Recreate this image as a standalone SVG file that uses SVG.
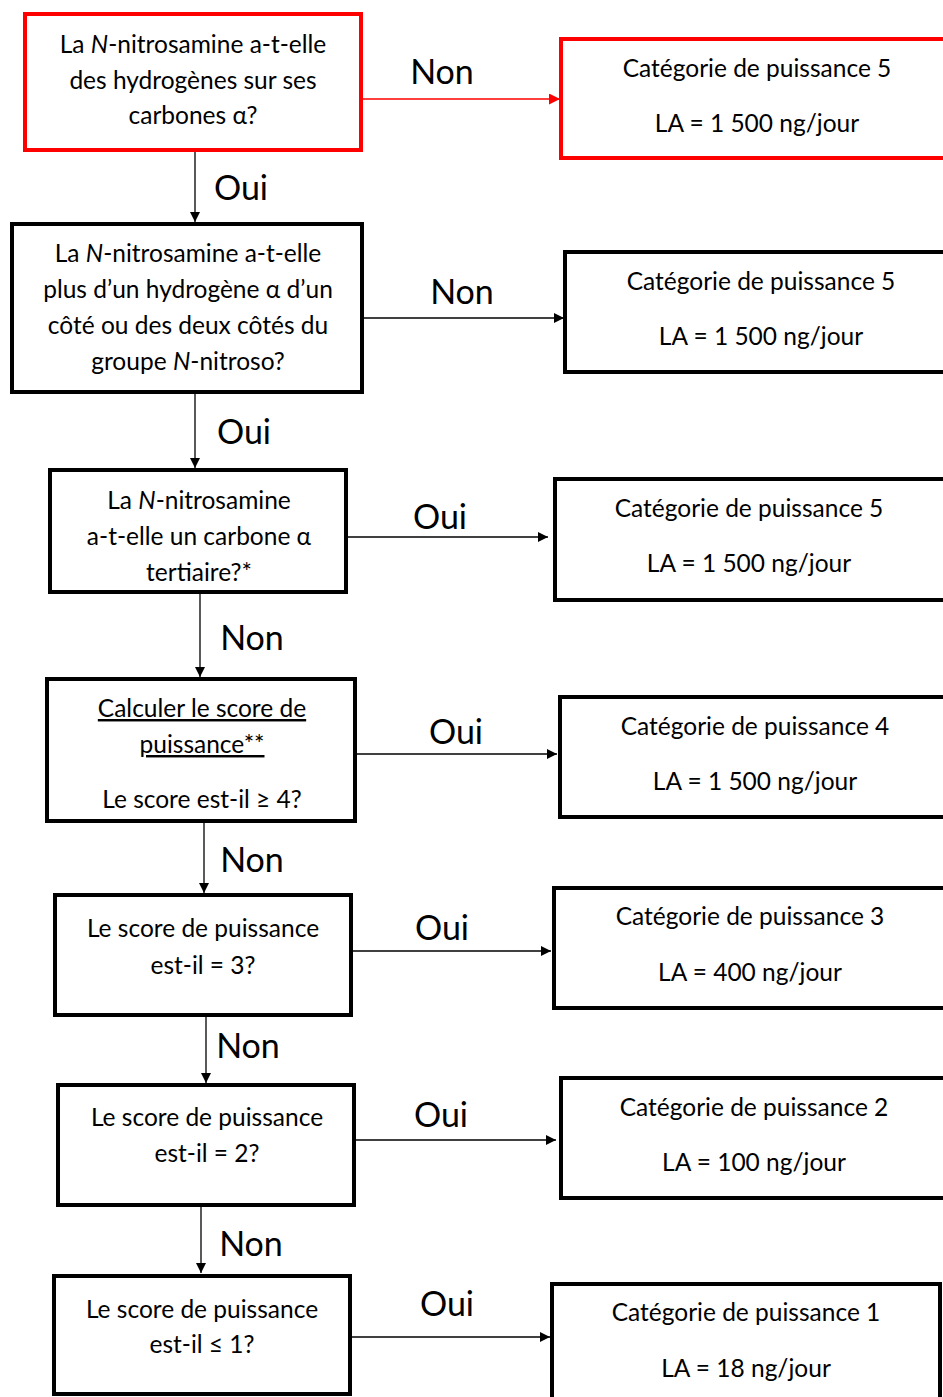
<svg xmlns="http://www.w3.org/2000/svg" width="943" height="1397" viewBox="0 0 943 1397">
<defs>
<style>
.box{fill:#fff;stroke:#000;stroke-width:4}
.red{stroke:#f00}
.t{font-family:Lato,"Liberation Sans",sans-serif;font-size:24.5px;fill:#000;text-anchor:middle}
.lbl{font-family:Lato,"Liberation Sans",sans-serif;font-size:34px;fill:#000;text-anchor:middle}
.c{stroke:#000;stroke-width:1.3;fill:none}
.cr{stroke:#f00;stroke-width:1.3;fill:none}
.u{text-decoration:underline}
</style>
<marker id="ah" viewBox="0 0 10 10" refX="10" refY="5" markerWidth="10" markerHeight="10" markerUnits="userSpaceOnUse" orient="auto"><path d="M0,0 L10,5 L0,10 Z" fill="#000"/></marker>
<marker id="ahr" viewBox="0 0 10 10" refX="10" refY="5" markerWidth="11" markerHeight="11" markerUnits="userSpaceOnUse" orient="auto"><path d="M0,0 L10,5 L0,10 Z" fill="#f00"/></marker>
</defs>
<rect width="943" height="1397" fill="#fff"/>

<g id="connectors">
<line class="cr" x1="361" y1="99" x2="560" y2="99" marker-end="url(#ahr)"/>
<line class="c" x1="195" y1="152" x2="195" y2="222" marker-end="url(#ah)"/>
<line class="c" x1="362" y1="318" x2="564" y2="318" marker-end="url(#ah)"/>
<line class="c" x1="195" y1="394" x2="195" y2="468" marker-end="url(#ah)"/>
<line class="c" x1="346" y1="537" x2="548" y2="537" marker-end="url(#ah)"/>
<line class="c" x1="200" y1="594" x2="200" y2="677" marker-end="url(#ah)"/>
<line class="c" x1="355" y1="754" x2="557" y2="754" marker-end="url(#ah)"/>
<line class="c" x1="204" y1="823" x2="204" y2="893" marker-end="url(#ah)"/>
<line class="c" x1="351" y1="951" x2="551" y2="951" marker-end="url(#ah)"/>
<line class="c" x1="206" y1="1017" x2="206" y2="1083" marker-end="url(#ah)"/>
<line class="c" x1="354" y1="1140" x2="556" y2="1140" marker-end="url(#ah)"/>
<line class="c" x1="201" y1="1207" x2="201" y2="1273" marker-end="url(#ah)"/>
<line class="c" x1="350" y1="1337" x2="550" y2="1337" marker-end="url(#ah)"/>
<text class="lbl" x="442" y="84">Non</text>
<text class="lbl" x="241" y="200">Oui</text>
<text class="lbl" x="462" y="304">Non</text>
<text class="lbl" x="244" y="444">Oui</text>
<text class="lbl" x="440" y="529">Oui</text>
<text class="lbl" x="252" y="650">Non</text>
<text class="lbl" x="456" y="744">Oui</text>
<text class="lbl" x="252" y="872">Non</text>
<text class="lbl" x="442" y="940">Oui</text>
<text class="lbl" x="248" y="1058">Non</text>
<text class="lbl" x="441" y="1127">Oui</text>
<text class="lbl" x="251" y="1256">Non</text>
<text class="lbl" x="447" y="1316">Oui</text>
</g>

<g id="q1">
<rect class="box red" x="25" y="14" width="336" height="136"/>
<text class="t" x="193" y="53">La <tspan font-style="italic">N</tspan>-nitrosamine a-t-elle</text>
<text class="t" x="193" y="89">des hydrogènes sur ses</text>
<text class="t" x="193" y="124">carbones α?</text>
</g>
<g id="r1">
<rect class="box red" x="561" y="39" width="390" height="119"/>
<text class="t" x="757" y="77">Catégorie de puissance 5</text>
<text class="t" x="757" y="132">LA = 1 500 ng/jour</text>
</g>

<g id="q2">
<rect class="box" x="12" y="224" width="350" height="168"/>
<text class="t" x="188" y="262">La <tspan font-style="italic">N</tspan>-nitrosamine a-t-elle</text>
<text class="t" x="188" y="298">plus d’un hydrogène α d’un</text>
<text class="t" x="188" y="334">côté ou des deux côtés du</text>
<text class="t" x="188" y="370">groupe <tspan font-style="italic">N</tspan>-nitroso?</text>
</g>
<g id="r2">
<rect class="box" x="565" y="252" width="386" height="120"/>
<text class="t" x="761" y="290">Catégorie de puissance 5</text>
<text class="t" x="761" y="345">LA = 1 500 ng/jour</text>
</g>

<g id="q3">
<rect class="box" x="50" y="470" width="296" height="122"/>
<text class="t" x="199" y="509">La <tspan font-style="italic">N</tspan>-nitrosamine</text>
<text class="t" x="199" y="545">a-t-elle un carbone α</text>
<text class="t" x="199" y="581">tertiaire?*</text>
</g>
<g id="r3">
<rect class="box" x="555" y="479" width="396" height="121"/>
<text class="t" x="749" y="517">Catégorie de puissance 5</text>
<text class="t" x="749" y="572">LA = 1 500 ng/jour</text>
</g>

<g id="q4">
<rect class="box" x="47" y="679" width="308" height="142"/>
<text class="t u" x="202" y="717">Calculer le score de</text>
<text class="t u" x="202" y="753">puissance**</text>
<text class="t" x="202" y="808">Le score est-il ≥ 4?</text>
</g>
<g id="r4">
<rect class="box" x="560" y="697" width="391" height="120"/>
<text class="t" x="755" y="735">Catégorie de puissance 4</text>
<text class="t" x="755" y="790">LA = 1 500 ng/jour</text>
</g>

<g id="q5">
<rect class="box" x="55" y="895" width="296" height="120"/>
<text class="t" x="203" y="937">Le score de puissance</text>
<text class="t" x="203" y="974">est-il = 3?</text>
</g>
<g id="r5">
<rect class="box" x="554" y="888" width="397" height="120"/>
<text class="t" x="750" y="925">Catégorie de puissance 3</text>
<text class="t" x="750" y="981">LA = 400 ng/jour</text>
</g>

<g id="q6">
<rect class="box" x="58" y="1085" width="296" height="120"/>
<text class="t" x="207" y="1126">Le score de puissance</text>
<text class="t" x="207" y="1162">est-il = 2?</text>
</g>
<g id="r6">
<rect class="box" x="561" y="1078" width="390" height="120"/>
<text class="t" x="754" y="1116">Catégorie de puissance 2</text>
<text class="t" x="754" y="1171">LA = 100 ng/jour</text>
</g>

<g id="q7">
<rect class="box" x="54" y="1276" width="296" height="118"/>
<text class="t" x="202" y="1318">Le score de puissance</text>
<text class="t" x="202" y="1353">est-il ≤ 1?</text>
</g>
<g id="r7">
<rect class="box" x="552" y="1284" width="388" height="125"/>
<text class="t" x="746" y="1321">Catégorie de puissance 1</text>
<text class="t" x="746" y="1377">LA = 18 ng/jour</text>
</g>
</svg>
